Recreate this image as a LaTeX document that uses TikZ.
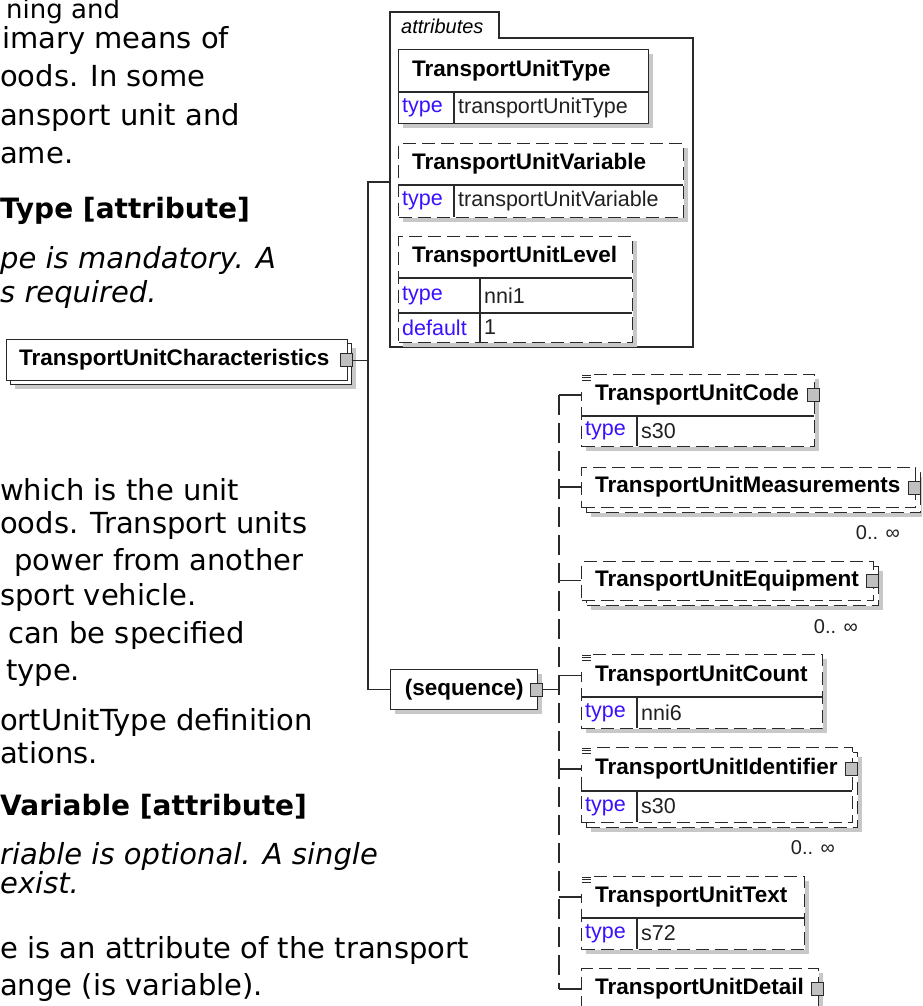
\documentclass[tikz,border=0pt]{standalone}
\usepackage{fontspec}
\setmainfont{DejaVu Sans}
\newfontfamily\xsdfont{Liberation Sans}
\usepackage{tikz}
\usetikzlibrary{shadows, positioning}

\begin{document}
\begin{tikzpicture}[x=1pt, y=-1pt,
  every node/.style={inner sep=0pt},
  para/.style={anchor=base west, font=\fontsize{29}{35}\selectfont},
  paraem/.style={anchor=base west, font=\itshape\fontsize{29}{35}\selectfont},
  parahead/.style={anchor=base west, font=\bfseries\fontsize{28}{35}\selectfont},
  elbox/.style={anchor=north west, draw=edgecol, line width=1.4pt, fill=white,
    drop shadow={shadow xshift=4pt, shadow yshift=-4pt, fill=shadowcol, opacity=1}},
  flatbox/.style={anchor=north west, draw=edgecol, line width=1.4pt, fill=white},
  optional/.style={dash pattern=on 13pt off 6pt},
  elname/.style={anchor=west, font=\xsdfont\bfseries\fontsize{22.5}{26}\selectfont},
  keytext/.style={anchor=west, text=keyblue, font=\xsdfont\fontsize{21.5}{25}\selectfont},
  valtext/.style={anchor=west, text=valcol, font=\xsdfont\fontsize{21.5}{25}\selectfont},
  multtext/.style={anchor=east, text=valcol, font=\xsdfont\fontsize{20}{24}\selectfont},
  plusbox/.style={draw=edgecol, fill=plusgray, line width=1pt, minimum width=12pt, minimum height=13pt},
  conn/.style={draw=edgecol, line width=1.4pt},
  busline/.style={conn, dash pattern=on 20pt off 8pt},
  divline/.style={draw=edgecol, line width=1.4pt}
]
  \definecolor{edgecol}{HTML}{2A2A2A}
  \definecolor{shadowcol}{HTML}{C8C8C8}
  \definecolor{plusgray}{HTML}{C0C0C0}
  \definecolor{keyblue}{HTML}{3A10FF}
  \definecolor{valcol}{HTML}{202020}

  \useasboundingbox (0,0) rectangle (922,1006);
  \clip (0,0) rectangle (922,1006);

  % text of the page, cut at the left edge
  \node[para, font=\fontsize{26}{31}\selectfont] (t1) at (6,19) {ning and};
  \node[para] (t2) at (2,49) {imary means of};
  \node[para] (t3) at (0,87) {oods. In some};
  \node[para] (t4) at (0,126) {ansport unit and};
  \node[para] (t5) at (0,164) {ame.};
  \node[parahead] (t6) at (0,218) {Type [attribute]};
  \node[paraem] (t7) at (0,268) {pe is mandatory. A};
  \node[paraem] (t8) at (0,302) {s required.};
  \node[para] (t9) at (0,500) {which is the unit};
  \node[para] (t10) at (0,533) {oods. Transport units};
  \node[para] (t11) at (14,570) {power from another};
  \node[para] (t12) at (0,605) {sport vehicle.};
  \node[para] (t13) at (8,643) {can be specified};
  \node[para] (t14) at (6,680) {type.};
  \node[para] (t15) at (0,730) {ortUnitType definition};
  \node[para] (t16) at (0,763) {ations.};
  \node[parahead] (t17) at (0,815) {Variable [attribute]};
  \node[paraem] (t18) at (0,864) {riable is optional. A single};
  \node[paraem] (t19) at (0,893) {exist.};
  \node[para] (t20) at (0,958) {e is an attribute of the transport};
  \node[para] (t21) at (0,995) {ange (is variable).};

  % root element
  \node[elbox, minimum width=341pt, minimum height=41pt] (tucback) at (10,343) {};
  \node[flatbox, minimum width=341pt, minimum height=41pt] (tuc) at (6,339) {};
  \node[elname] (tuc-n) at (19,359.5) {TransportUnitCharacteristics};
  \node[plusbox, xshift=-2pt] (tuc-p) at (tuc.east) {};

  % attributes group
  \draw[conn] (390,347) -- (390,12) -- (499,12) -- (499,38) -- (693,38) -- (693,347) -- cycle;
  \node[anchor=west, font=\xsdfont\itshape\fontsize{20}{24}\selectfont] (attr-t) at (401,26) {attributes};
  \coordinate (attr-in) at (390,182);

  \node[elbox, minimum width=250pt, minimum height=74pt] (atype) at (398,49) {};
  \node[elname] (atype-n) at (412,70.5) {TransportUnitType};
  \draw[divline] (398,92) -- (648,92) (454,92) -- (454,123);
  \node[keytext] (atype-k) at (402,107.5) {type};
  \node[valtext] (atype-v) at (458,107.5) {transportUnitType};

  \node[elbox, optional, minimum width=285pt, minimum height=74pt] (avar) at (398,143) {};
  \node[elname] (avar-n) at (412,164) {TransportUnitVariable};
  \draw[divline] (398,185) -- (683,185) (454,185) -- (454,217);
  \node[keytext] (avar-k) at (402,201) {type};
  \node[valtext] (avar-v) at (458,201) {transportUnitVariable};

  \node[elbox, optional, minimum width=234pt, minimum height=106pt] (alev) at (398,236) {};
  \node[elname] (alev-n) at (412,257) {TransportUnitLevel};
  \draw[divline] (398,278) -- (632,278) (398,313) -- (632,313) (480,278) -- (480,342);
  \node[keytext] (alev-k) at (402,295.5) {type};
  \node[valtext] (alev-v) at (484,295.5) {nni1};
  \node[keytext] (alev-k2) at (402,327.5) {default};
  \node[valtext] (alev-v2) at (484,327.5) {1};

  % sequence
  \node[elbox, minimum width=147pt, minimum height=40pt,
        font=\xsdfont\bfseries\fontsize{22.5}{26}\selectfont] (seq) at (390,669) {(sequence)};
  \node[plusbox, xshift=-2pt] (seq-p) at (seq.east) {};

  % child elements
  \node[elbox, optional, minimum width=233pt, minimum height=72pt] (code) at (581,374) {};
  \node[elname] (code-n) at (595,395) {TransportUnitCode};
  \draw[divline] (581,416) -- (814,416) (637,416) -- (637,446);
  \node[keytext] (code-k) at (585,431) {type};
  \node[valtext] (code-v) at (641,431) {s30};
  \node[plusbox, xshift=-2pt] (code-p) at (code.east |- code-n) {};

  \node[elbox, optional, minimum width=334pt, minimum height=40pt] (measback) at (586,472) {};
  \node[flatbox, optional, minimum width=334pt, minimum height=40pt] (meas) at (581,467) {};
  \node[elname] (meas-n) at (595,487) {TransportUnitMeasurements};
  \node[plusbox, xshift=-2pt] (meas-p) at (meas.east) {};
  \node[multtext] (meas-m) at (900,533) {0.. ∞};

  \node[elbox, optional, minimum width=292pt, minimum height=39pt] (equipback) at (586,566) {};
  \node[flatbox, optional, minimum width=292pt, minimum height=39pt] (equip) at (581,561) {};
  \node[elname] (equip-n) at (595,580.5) {TransportUnitEquipment};
  \node[plusbox, xshift=-2pt] (equip-p) at (equip.east) {};
  \node[multtext] (equip-m) at (858,627) {0.. ∞};

  \node[elbox, optional, minimum width=241pt, minimum height=74pt] (count) at (581,654) {};
  \node[elname] (count-n) at (595,675.5) {TransportUnitCount};
  \draw[divline] (581,697) -- (822,697) (637,697) -- (637,728);
  \node[keytext] (count-k) at (585,712.5) {type};
  \node[valtext] (count-v) at (641,712.5) {nni6};

  \node[elbox, optional, minimum width=271pt, minimum height=75pt] (identback) at (586,752) {};
  \node[flatbox, optional, minimum width=271pt, minimum height=75pt] (ident) at (581,747) {};
  \node[elname] (ident-n) at (595,769) {TransportUnitIdentifier};
  \draw[divline] (581,791) -- (852,791) (637,791) -- (637,822);
  \node[keytext] (ident-k) at (585,806.5) {type};
  \node[valtext] (ident-v) at (641,806.5) {s30};
  \node[plusbox, xshift=-2pt] (ident-p) at (ident.east |- ident-n) {};
  \node[multtext] (ident-m) at (835,848) {0.. ∞};

  \node[elbox, optional, minimum width=223pt, minimum height=73pt] (txt) at (581,876) {};
  \node[elname] (txt-n) at (595,897) {TransportUnitText};
  \draw[divline] (581,918) -- (804,918) (637,918) -- (637,949);
  \node[keytext] (txt-k) at (585,933.5) {type};
  \node[valtext] (txt-v) at (641,933.5) {s72};

  \node[elbox, optional, minimum width=237pt, minimum height=50pt] (detail) at (581,968) {};
  \node[elname] (detail-n) at (595,989) {TransportUnitDetail};
  \node[plusbox, xshift=-2pt] (detail-p) at (detail.east |- detail-n) {};

  % documentation marks
  \foreach \x/\y in {581/374, 581/654, 581/747, 581/876} {
    \fill[white] (\x-2,\y-2) rectangle (\x+12,\y+18);
    \foreach \k in {0,1,2}
      \draw[edgecol, line width=0.9pt] (\x+1,\y+1+2.6*\k) -- (\x+10,\y+1+2.6*\k);
  }

  % connectors
  \coordinate (trunk) at (368,0);
  \coordinate (bus) at (559,0);
  \draw[conn] (tuc-p.east) -- (trunk |- tuc-p);
  \draw[conn] (attr-in) -| (trunk |- seq) -- (seq.west);
  \draw[conn] (seq-p.east) -- (bus |- seq-p);
  \draw[busline] (bus |- code-n) -- (bus |- detail-n);
  \foreach \e in {code,meas,equip,count,ident,txt,detail}
    \draw[conn] (bus |- \e-n) -- (\e.west |- \e-n);
\end{tikzpicture}
\end{document}
